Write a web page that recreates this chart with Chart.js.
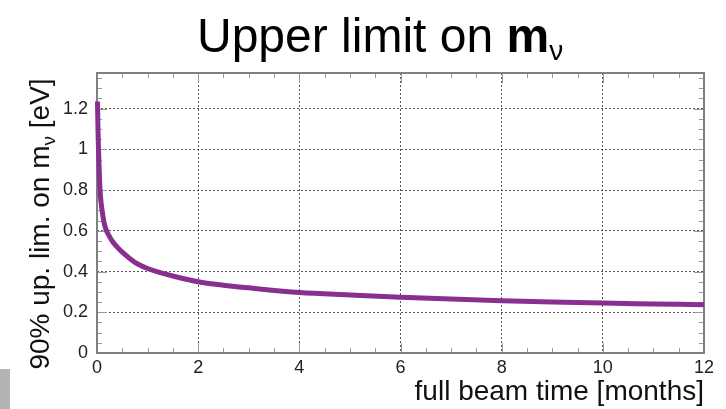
<!DOCTYPE html>
<html>
<head>
<meta charset="utf-8">
<script src="https://cdn.jsdelivr.net/npm/chart.js@4"></script>
<style>
  html, body { margin: 0; padding: 0; background: #fff; }
  #wrap { position: relative; width: 726px; height: 409px; overflow: hidden; }
  #title {
    position: absolute; left: 197px; top: 12px;
    font-family: "Liberation Sans", Arial, sans-serif;
    font-size: 48px; line-height: 48px; color: #000; white-space: nowrap;
  }
  #title sub { font-size: 28px; vertical-align: -8px; line-height: 0; }
  #corner { position: absolute; left: 0; top: 369px; width: 10px; height: 40px; background: #b4b4b4; }
</style>
</head>
<body>
<div id="wrap">
  <canvas id="myChart" width="726" height="409"></canvas>
  <div id="title">Upper limit on <b>m</b><sub>ν</sub></div>
  <div id="corner"></div>
</div>
<script>
const months = [0.01, 0.02, 0.03, 0.045, 0.06, 0.08, 0.1, 0.14, 0.18, 0.24, 0.3, 0.4, 0.5, 0.75, 1, 1.25, 1.5, 2, 2.5, 3, 4, 5, 6, 7, 8, 9, 10, 11, 12];
const upperLimit = [1.235, 1.09, 1.0, 0.89, 0.8, 0.74, 0.7, 0.64, 0.605, 0.575, 0.55, 0.52, 0.495, 0.445, 0.415, 0.395, 0.378, 0.35, 0.333, 0.32, 0.297, 0.285, 0.274, 0.265, 0.257, 0.25, 0.245, 0.241, 0.237];

const xTicks = [0, 2, 4, 6, 8, 10, 12];
const xTickLabels = ["0", "2", "4", "6", "8", "10", "12"];
const yTicks = [0, 0.2, 0.4, 0.6, 0.8, 1, 1.2];
const yTickLabels = ["0", "0.2", "0.4", "0.6", "0.8", "1", "1.2"];

const FONT = "'Liberation Sans', Arial, sans-serif";

// frame + small inside ticks like the ROOT style
const frame = {
  id: "frame",
  beforeDatasetsDraw(chart) {
    const c = chart.ctx;
    const a = chart.chartArea;
    const x = chart.scales.x;
    const y = chart.scales.y;
    c.save();
    c.strokeStyle = "#999";
    c.lineWidth = 1;
    c.beginPath();
    for (let v = 0.5; v < 12; v += 0.5) {
      const px = Math.round(x.getPixelForValue(v)) + 0.5;
      const len = v % 2 === 0 ? 10 : 5;
      c.moveTo(px, a.bottom); c.lineTo(px, a.bottom - len);
      c.moveTo(px, a.top); c.lineTo(px, a.top + len);
    }
    for (let i = 1; i * 0.05 < 1.37; i++) {
      const py = Math.round(y.getPixelForValue(i * 0.05)) + 0.5;
      const len = i % 4 === 0 ? 10 : 5;
      c.moveTo(a.left, py); c.lineTo(a.left + len, py);
      c.moveTo(a.right, py); c.lineTo(a.right - len, py);
    }
    c.stroke();
    c.strokeStyle = "#808080";
    c.lineWidth = 2;
    c.strokeRect(a.left, a.top, a.right - a.left, a.bottom - a.top);
    c.restore();
  },
  afterDraw(chart) {
    // y title with subscript nu
    const c = chart.ctx;
    const parts = [
      { t: "90% up. lim. on m", f: "28px " + FONT, dy: 0 },
      { t: "ν", f: "19px " + FONT, dy: 6 },
      { t: " [eV]", f: "28px " + FONT, dy: 0 },
    ];
    c.save();
    let w = 0;
    parts.forEach(p => { c.font = p.f; p.w = c.measureText(p.t).width; w += p.w; });
    c.translate(49, 224);
    c.rotate(-Math.PI / 2);
    c.fillStyle = "#111";
    c.textBaseline = "alphabetic";
    let cx = -w / 2;
    parts.forEach(p => { c.font = p.f; c.fillText(p.t, cx, p.dy); cx += p.w; });
    c.restore();
  },
};

new Chart(document.getElementById("myChart"), {
  type: "line",
  data: {
    datasets: [
      {
        label: "upper limit",
        data: months.map((m, i) => ({ x: m, y: upperLimit[i] })),
        borderColor: "#882f90",
        borderWidth: 5,
        pointRadius: 0,
        cubicInterpolationMode: "monotone",
        fill: false,
        clip: 6,
      },
    ],
  },
  options: {
    responsive: false,
    animation: false,
    layout: { padding: { top: 73, right: 22, bottom: 0, left: 0 } },
    plugins: { legend: { display: false }, tooltip: { enabled: false } },
    scales: {
      x: {
        type: "linear",
        min: 0,
        max: 12,
        afterBuildTicks: (s) => { s.ticks = xTicks.map(v => ({ value: v })); },
        afterFit: (s) => { s.height = 56; },
        grid: { color: "#555", lineWidth: 1, drawTicks: false },
        border: { display: false, dash: [2, 2] },
        ticks: {
          callback: (v, i) => xTickLabels[i],
          font: { size: 18, family: FONT },
          color: "#222",
          padding: 4,
          maxRotation: 0,
        },
        title: {
          display: true,
          text: "full beam time [months]",
          align: "end",
          color: "#111",
          font: { size: 28, family: FONT },
          padding: { top: 1, bottom: 0 },
        },
      },
      y: {
        type: "linear",
        min: 0,
        max: 1.375,
        afterBuildTicks: (s) => { s.ticks = yTicks.map(v => ({ value: v })); },
        afterFit: (s) => { s.width = 97; },
        grid: { color: "#555", lineWidth: 1, drawTicks: false },
        border: { display: false, dash: [2, 2] },
        ticks: {
          callback: (v, i) => yTickLabels[i],
          font: { size: 18, family: FONT },
          color: "#222",
          padding: 9,
        },
      },
    },
  },
  plugins: [frame],
});
</script>
</body>
</html>
